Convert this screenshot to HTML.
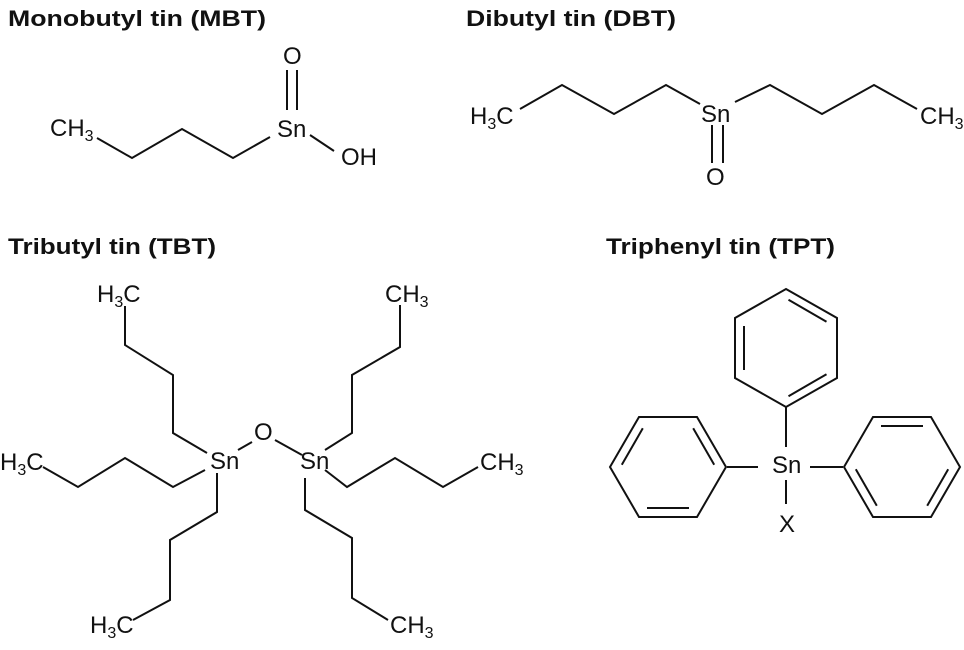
<!DOCTYPE html>
<html><head><meta charset="utf-8"><style>
html,body{margin:0;padding:0;background:#fff;}
svg{display:block;}
text{font-family:"Liberation Sans",sans-serif;fill:#111;}
.t{font-weight:bold;font-size:22px;}
.l{font-size:24px;}
.s{font-size:16px;}
</style></head><body>
<svg width="964" height="650" viewBox="0 0 964 650" xmlns="http://www.w3.org/2000/svg">
<g fill="none" stroke="#111" stroke-width="2" stroke-linejoin="miter">
<polyline points="97,138 132,158 182,129 233,158 270,137"/>
<line x1="287" y1="70" x2="287" y2="110"/><line x1="297" y1="70" x2="297" y2="110"/>
<line x1="310" y1="135" x2="334" y2="151"/>
<polyline points="520,109 562,85 614,114 666,85 700,104"/>
<polyline points="735,102 770,85 822,114 874,85 917,109"/>
<line x1="712" y1="125" x2="712" y2="163"/><line x1="723" y1="125" x2="723" y2="163"/>
<polyline points="125,306 125,345 173,375 173,433 207,453"/>
<polyline points="43,467 78,487 125,458 173,487 205,470"/>
<polyline points="217,473 217,512 170,540 170,600 133,620"/>
<line x1="238" y1="450" x2="252" y2="442"/>
<line x1="275" y1="440" x2="302" y2="455"/>
<polyline points="400,305 400,347 352,375 352,433 325,450"/>
<polyline points="325,470 347,487 395,458 443,487 478,467"/>
<polyline points="305,478 305,510 352,538 352,598 388,620"/>
<polygon points="786,289 837,318 837,378 786,407 735,378 735,318"/>
<line x1="744" y1="326" x2="744" y2="370"/>
<line x1="788.5" y1="299.8" x2="826.5" y2="321.8"/>
<line x1="826.5" y1="374.2" x2="788.5" y2="396.2"/>
<polygon points="639,417 697,417 726,467 697,517 639,517 610,467"/>
<line x1="621.8" y1="464.7" x2="642.8" y2="428.3"/>
<line x1="693.2" y1="428.3" x2="714.2" y2="464.7"/>
<line x1="647" y1="508" x2="689" y2="508"/>
<polygon points="873,417 931,417 960,467 931,517 873,517 844,467"/>
<line x1="881" y1="426" x2="923" y2="426"/>
<line x1="855.8" y1="469.3" x2="876.8" y2="505.7"/>
<line x1="927.2" y1="505.7" x2="948.2" y2="469.3"/>
<line x1="786" y1="407" x2="786" y2="447"/>
<line x1="727" y1="467" x2="758" y2="467"/>
<line x1="810" y1="467" x2="843" y2="467"/>
<line x1="786" y1="480" x2="786" y2="504"/>
</g>
<text class="t" x="8" y="26" textLength="258" lengthAdjust="spacingAndGlyphs">Monobutyl tin (MBT)</text>
<text class="t" x="466" y="26" textLength="210" lengthAdjust="spacingAndGlyphs">Dibutyl tin (DBT)</text>
<text class="t" x="8" y="254" textLength="208" lengthAdjust="spacingAndGlyphs">Tributyl tin (TBT)</text>
<text class="t" x="606" y="254" textLength="229" lengthAdjust="spacingAndGlyphs">Triphenyl tin (TPT)</text>
<text class="l" x="50" y="136">CH<tspan class="s" dy="5">3</tspan></text>
<text class="l" x="277" y="137">Sn</text>
<text class="l" x="283" y="64">O</text>
<text class="l" x="341" y="165">OH</text>
<text class="l" x="470" y="124">H<tspan class="s" dy="5">3</tspan><tspan dy="-5">C</tspan></text>
<text class="l" x="701" y="122">Sn</text>
<text class="l" x="706" y="185">O</text>
<text class="l" x="920" y="124">CH<tspan class="s" dy="5">3</tspan></text>
<text class="l" x="97" y="302">H<tspan class="s" dy="5">3</tspan><tspan dy="-5">C</tspan></text>
<text class="l" x="0" y="470">H<tspan class="s" dy="5">3</tspan><tspan dy="-5">C</tspan></text>
<text class="l" x="90" y="633">H<tspan class="s" dy="5">3</tspan><tspan dy="-5">C</tspan></text>
<text class="l" x="210" y="469">Sn</text>
<text class="l" x="254" y="440">O</text>
<text class="l" x="300" y="469">Sn</text>
<text class="l" x="385" y="302">CH<tspan class="s" dy="5">3</tspan></text>
<text class="l" x="480" y="470">CH<tspan class="s" dy="5">3</tspan></text>
<text class="l" x="390" y="633">CH<tspan class="s" dy="5">3</tspan></text>
<text class="l" x="772" y="473">Sn</text>
<text class="l" x="779" y="532">X</text>
</svg>
</body></html>
